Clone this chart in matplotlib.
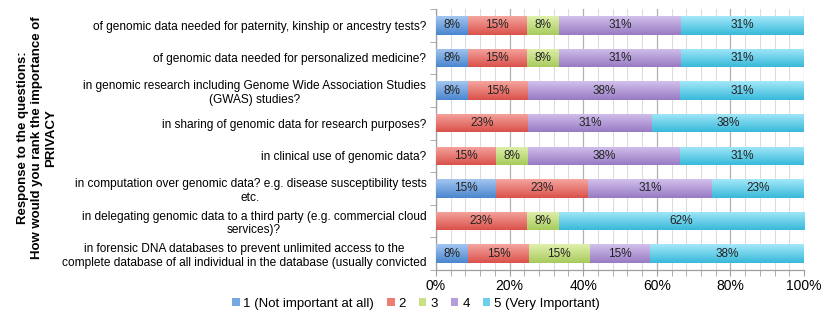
import numpy as np
import matplotlib
matplotlib.use("Agg")
import matplotlib.pyplot as plt
from matplotlib.colors import LinearSegmentedColormap
from matplotlib.patches import Patch

plt.rcParams['font.family'] = ['Liberation Sans', 'DejaVu Sans']

categories = [
    "of genomic data needed for paternity, kinship or ancestry tests?",
    "of genomic data needed for personalized medicine?",
    "in genomic research including Genome Wide Association Studies\n(GWAS) studies?",
    "in sharing of genomic data for research purposes?",
    "in clinical use of genomic data?",
    "in computation over genomic data? e.g. disease susceptibility tests\netc.",
    "in delegating genomic data to a third party (e.g. commercial cloud\nservices)?",
    "in forensic DNA databases to prevent unlimited access to the\ncomplete database of all individual in the database (usually convicted",
]
series_names = ["1 (Not important at all)", "2", "3", "4", "5 (Very Important)"]
s1 = [8, 8, 8, 0, 0, 15, 0, 8]
s2 = [15, 15, 15, 23, 15, 23, 23, 15]
s3 = [8, 8, 0, 0, 8, 0, 8, 15]
s4 = [31, 31, 38, 31, 38, 31, 0, 15]
s5 = [31, 31, 31, 38, 31, 23, 62, 38]
xticks = [0, 20, 40, 60, 80, 100]

series = np.array([s1, s2, s3, s4, s5], dtype=float)
totals = series.sum(axis=0)
norm = series / totals * 100.0

top_cols = ["#A3C6F0", "#F6A59F", "#E0F0AE", "#D2C0EC", "#A4E8F8"]
bot_cols = ["#4A86CF", "#D9524B", "#A8CB5C", "#987BC3", "#38B9DB"]
mid_cols = ["#76A7E2", "#EE7C74", "#C8E185", "#B69DDA", "#6CD1EC"]

fig = plt.figure(figsize=(8.3, 3.22), dpi=100)
ax = fig.add_axes([436/830, 1-270/322, 368/830, 261/322])

y = np.arange(len(categories))
h = 0.57
left = np.zeros(len(categories))
grad = np.linspace(0, 1, 64).reshape(-1, 1)
for k in range(5):
    bars = ax.barh(y, norm[k], left=left, height=h, color=mid_cols[k],
                   edgecolor='none', zorder=3)
    cmap = LinearSegmentedColormap.from_list("g%d" % k, [top_cols[k], bot_cols[k]])
    for b, val, lf, yy, lab in zip(bars, norm[k], left, y, series[k]):
        if val <= 0:
            continue
        im = ax.imshow(grad, cmap=cmap, aspect='auto', zorder=4,
                       extent=(lf, lf + val, yy + h/2, yy - h/2),
                       interpolation='bilinear')
        im.set_clip_path(b)
        ax.text(lf + val/2, yy, "%d%%" % lab, ha='center', va='center',
                fontsize=8.5, color='#222222', zorder=5)
    left += norm[k]

ax.set_xlim(0, 100)
ax.set_ylim(len(categories) - 0.5, -0.5)
ax.set_xticks(xticks)
ax.set_xticklabels(["%d%%" % t for t in xticks], fontsize=10)
ax.set_xticks(np.arange(0, 101, 4), minor=True)
ax.grid(axis='x', which='minor', color='#DCDCDC', lw=0.8, zorder=0)
ax.grid(axis='x', which='major', color='#B0B0B0', lw=0.9, zorder=1)
ax.set_yticks(y)
ax.set_yticklabels(categories, fontsize=8.6, multialignment='center')
ax.set_yticks(np.arange(len(categories) + 1) - 0.5, minor=True)
ax.tick_params(axis='y', which='major', length=0, pad=7)
ax.tick_params(axis='y', which='minor', length=4, color='#A0A0A0', direction='out')
ax.tick_params(axis='x', which='both', length=4, color='#A0A0A0', direction='out', pad=2.5)
for s in ['top', 'right']:
    ax.spines[s].set_visible(False)
for s in ['left', 'bottom']:
    ax.spines[s].set_color('#A0A0A0')
    ax.spines[s].set_linewidth(0.9)

fig.text(37/830, 1-138/322,
         "Response to the questions:\nHow would you rank the importance of\nPRIVACY",
         rotation=90, ha='center', va='center', fontsize=9.5, fontweight='bold',
         multialignment='center', linespacing=1.2)

handles = [Patch(facecolor=mid_cols[k], edgecolor='none') for k in range(5)]
fig.legend(handles, series_names, loc='center', ncol=5,
           bbox_to_anchor=(416/830, 1-304/322), frameon=False, fontsize=9.5,
           handlelength=0.55, handleheight=0.55, handletextpad=0.3,
           columnspacing=1.0)

fig.savefig("out.png", dpi=100)
